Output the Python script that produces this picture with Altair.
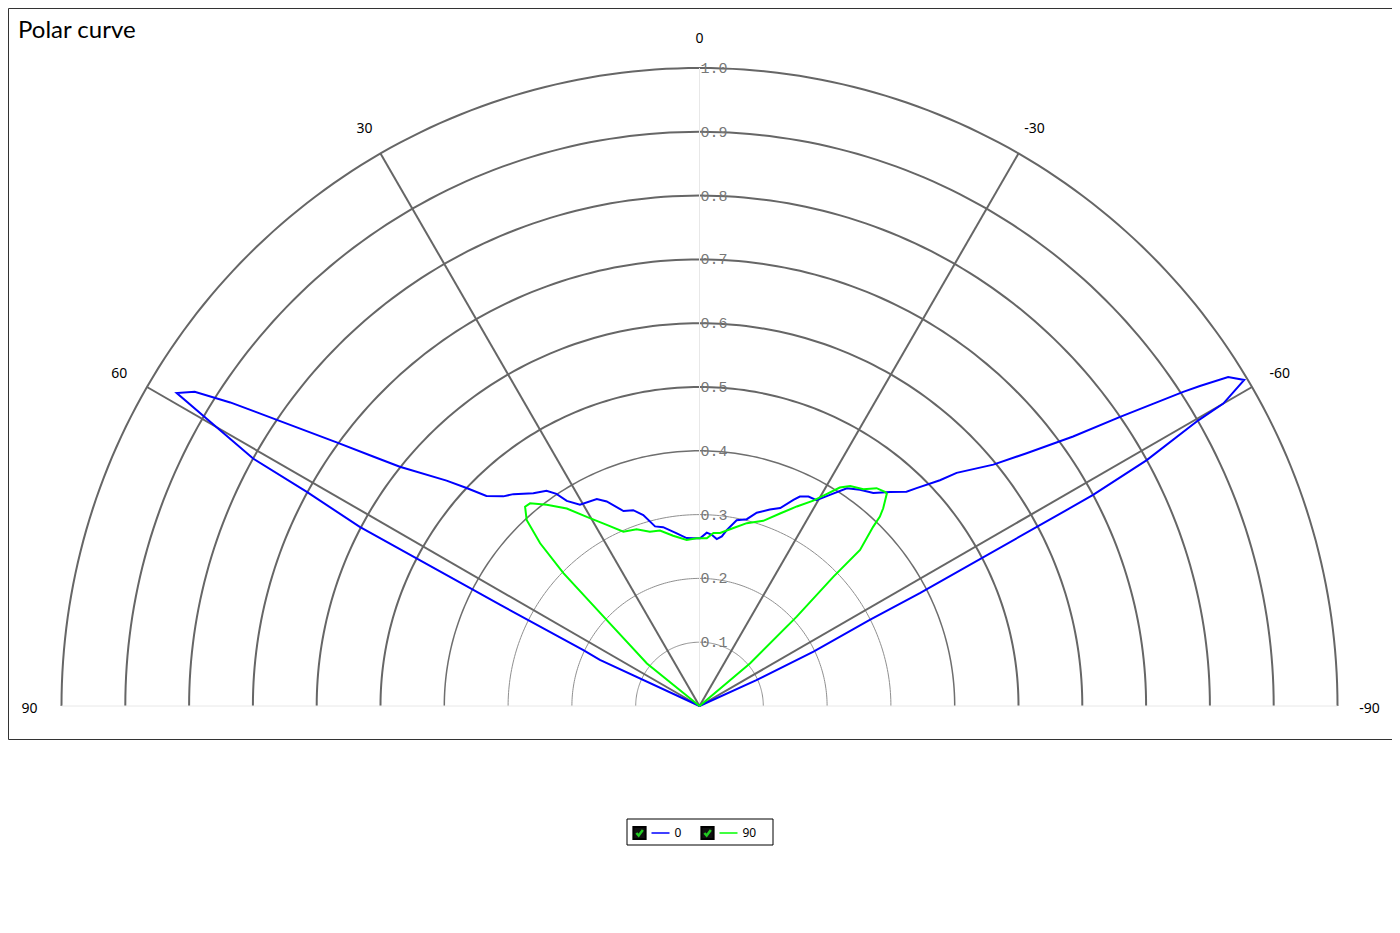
import altair as alt
import pandas as pd

TITLE = "Polar curve"
SERIES = ["0", "90"]
COLORS = ["#0000ff", "#00ff00"]

# C0 plane (blue): angle in degrees (positive = left), relative intensity
BLUE_ANGLE = [65, 65.2, 64.3, 63.1, 62.2, 61.4, 61.0, 59.1, 58.1, 57.1,
              55.9, 54.0, 52.6, 51.4, 48.3, 46.9, 45.4, 43.1, 41.3, 38.0,
              35.4, 34.0, 32.9, 30.7, 26.4, 24.4, 21.3, 18.7, 16.4, 13.9,
              11.5, 7.5, 4.4, 2.1, -0.2, -2.4, -4.1, -5.9, -7.5, -8.8,
              -11.3, -14.2, -16.5, -19.7, -22.2, -24.5, -25.6, -27.5, -29.6, -31.7,
              -34.1, -36.6, -39.2, -41.7, -44.0, -44.9, -46.8, -47.8, -50.6, -52.3,
              -54.2, -55.5, -57.0, -57.4, -58.1, -59.1, -60.0, -60.2, -61.2, -61.8,
              -61.9, -62.9, -63.2, -64.5, -65.6, -66]
BLUE_R = [0, 0.172, 0.202, 0.350, 0.602, 0.701, 0.800, 0.955, 0.932, 0.876,
          0.800, 0.703, 0.644, 0.601, 0.531, 0.500, 0.469, 0.450, 0.442, 0.423,
          0.414, 0.401, 0.383, 0.367, 0.362, 0.352, 0.328, 0.324, 0.312, 0.290,
          0.286, 0.273, 0.264, 0.263, 0.263, 0.272, 0.269, 0.263, 0.268, 0.279,
          0.297, 0.302, 0.316, 0.327, 0.335, 0.355, 0.364, 0.370, 0.371, 0.389,
          0.412, 0.422, 0.431, 0.449, 0.467, 0.482, 0.517, 0.544, 0.596, 0.648,
          0.722, 0.800, 0.904, 0.931, 0.976, 0.995, 0.948, 0.901, 0.800, 0.700,
          0.652, 0.388, 0.299, 0.198, 0.098, 0]

# C90 plane (green)
GREEN_ANGLE = [50, 51.0, 47.2, 45.7, 44.4, 42.9, 41.2, 39.9, 37.2, 33.9,
               30.8, 27.1, 23.6, 19.6, 15.9, 12.7, 8.8, 4.4, 1.0, -2.5,
               -4.6, -6.8, -10.8, -14.5, -19.0, -22.7, -26.0, -29.0, -31.0, -32.7,
               -34.4, -37.1, -39.1, -40.9, -41.4, -42.9, -43.6, -44.1, -45.8, -46.0,
               -47.4, -49.8, -50]
GREEN_R = [0, 0.106, 0.198, 0.298, 0.357, 0.398, 0.415, 0.414, 0.396, 0.373,
           0.345, 0.319, 0.298, 0.294, 0.284, 0.282, 0.270, 0.261, 0.263, 0.263,
           0.272, 0.273, 0.284, 0.296, 0.307, 0.327, 0.348, 0.368, 0.388, 0.407,
           0.418, 0.426, 0.440, 0.444, 0.444, 0.423, 0.410, 0.391, 0.351, 0.292,
           0.207, 0.104, 0]

RINGS = [0.1, 0.2, 0.3, 0.4, 0.5, 0.6, 0.7, 0.8, 0.9, 1.0]
SPOKES_MAJOR = [60, 30, -30, -60]
SPOKES_MINOR = [90, 0, -90]
ANGLE_LABELS = ["90", "60", "30", "0", "-30", "-60", "-90"]
ANGLE_VALUES = [90, 60, 30, 0, -30, -60, -90]

# ---------------------------------------------------------------- tables
curves = pd.concat([
    pd.DataFrame({"series": SERIES[0], "idx": range(len(BLUE_ANGLE)),
                  "angle": BLUE_ANGLE, "r": BLUE_R}),
    pd.DataFrame({"series": SERIES[1], "idx": range(len(GREEN_ANGLE)),
                  "angle": GREEN_ANGLE, "r": GREEN_R}),
], ignore_index=True)
rings_df = pd.DataFrame({"r": RINGS})
labels_df = pd.DataFrame({"angle": ANGLE_VALUES, "label": ANGLE_LABELS})

W, H = 1384, 731
R_PX = 638.0
CX, CY = 691.5, 698.0
xs = alt.Scale(domain=[-CX / R_PX, (W - CX) / R_PX], nice=False, zero=False)
ys = alt.Scale(domain=[-(H - CY) / R_PX, CY / R_PX], nice=False, zero=False)

XC = "-datum.r*sin(datum.angle*PI/180)"
YC = "datum.r*cos(datum.angle*PI/180)"


def X(f):
    return alt.X(f"{f}:Q", scale=xs, axis=None)


def Y(f):
    return alt.Y(f"{f}:Q", scale=ys, axis=None)


def ring_layer(cond, color, width):
    return (alt.Chart(rings_df)
            .transform_filter(cond)
            .transform_calculate(angle="sequence(-90, 90.5, 1)")
            .transform_flatten(["angle"])
            .transform_calculate(x=XC, y=YC)
            .mark_line(color=color, strokeWidth=width)
            .encode(x=X("x"), y=Y("y"), detail="r:N", order="angle:Q"))


rings_thin = ring_layer("datum.r < 0.35", "#8f8f8f", 1)
rings_mid = ring_layer("datum.r > 0.35 && datum.r < 0.45", "#6e6e6e", 1.5)
rings_thick = ring_layer("datum.r > 0.45", "#666666", 2)


def spoke_layer(angles, color, width):
    return (alt.Chart(pd.DataFrame({"angle": angles}))
            .transform_calculate(r="1", x0="0", y0="0")
            .transform_calculate(x=XC, y=YC)
            .mark_rule(color=color, strokeWidth=width)
            .encode(x=X("x0"), y=Y("y0"), x2="x:Q", y2="y:Q"))


spokes_minor = spoke_layer(SPOKES_MINOR, "#e8e8e8", 1)
spokes_major = spoke_layer(SPOKES_MAJOR, "#666666", 2)

ring_labels = (alt.Chart(rings_df)
               .transform_calculate(x0="0", txt="format(datum.r, '.1f')")
               .mark_text(align="left", baseline="middle", dx=1, fontSize=15,
                          font="Liberation Mono", color="#777777")
               .encode(x=X("x0"), y=Y("r"), text="txt:N"))

angle_labels = (alt.Chart(labels_df)
                .transform_calculate(r="1.05")
                .transform_calculate(x=XC, y=YC)
                .mark_text(align="center", baseline="middle", fontSize=14, dy=3,
                           font="Noto Sans", color="black")
                .encode(x=X("x"), y=Y("y"), text="label:N"))

lines = (alt.Chart(curves)
         .transform_calculate(x=XC, y=YC)
         .mark_line(strokeWidth=2)
         .encode(x=X("x"), y=Y("y"),
                 color=alt.Color("series:N",
                                 scale=alt.Scale(domain=SERIES, range=COLORS),
                                 legend=None),
                 order="idx:Q"))

title = (alt.Chart(pd.DataFrame({"t": [TITLE]}))
         .mark_text(align="left", baseline="alphabetic", fontSize=24,
                    font="Lato", color="black")
         .encode(x=alt.value(10), y=alt.value(30), text="t:N"))

# ---------------------------------------------------------------- legend
one = pd.DataFrame({"a": [0]})
legend_layers = [
    alt.Chart(one).mark_rect(fill="white", stroke="black", strokeWidth=1)
    .encode(x=alt.value(619), x2=alt.value(765), y=alt.value(811), y2=alt.value(837))
]
LY = 825
for i, (s, c) in enumerate(zip(SERIES, COLORS)):
    cx = 631.5 + 68 * i
    item = pd.DataFrame({"series": [s], "color": [c]})
    legend_layers += [
        alt.Chart(item).mark_point(shape="square", size=150, filled=True,
                                   fill="#111111", stroke="#000000", opacity=1)
        .encode(x=alt.value(cx), y=alt.value(LY)),
        alt.Chart(item).mark_point(shape="M-0.75,0 L-0.2,0.6 L0.8,-0.7",
                                   filled=False, stroke="#22cc22", strokeWidth=2.5,
                                   size=70, opacity=1)
        .encode(x=alt.value(cx), y=alt.value(LY)),
        alt.Chart(item).mark_rule(strokeWidth=1.5)
        .encode(x=alt.value(cx + 12), x2=alt.value(cx + 30), y=alt.value(LY),
                color=alt.Color("color:N", scale=None)),
        alt.Chart(item).mark_text(align="left", baseline="middle", fontSize=12,
                                  font="Noto Sans", color="black")
        .encode(x=alt.value(cx + 35), y=alt.value(LY), text="series:N"),
    ]

chart = (alt.layer(rings_thin, rings_mid, rings_thick, spokes_minor, spokes_major,
                   ring_labels, angle_labels, lines, title, *legend_layers)
         .properties(width=W, height=H,
                     padding={"left": 0, "top": 0, "right": 0, "bottom": 170},
                     autosize=alt.AutoSizeParams(type="none"),
                     background="white")
         .configure_view(stroke="#333333", strokeWidth=1))

chart.save("out.html", embed_options={"renderer": "svg", "actions": False})
